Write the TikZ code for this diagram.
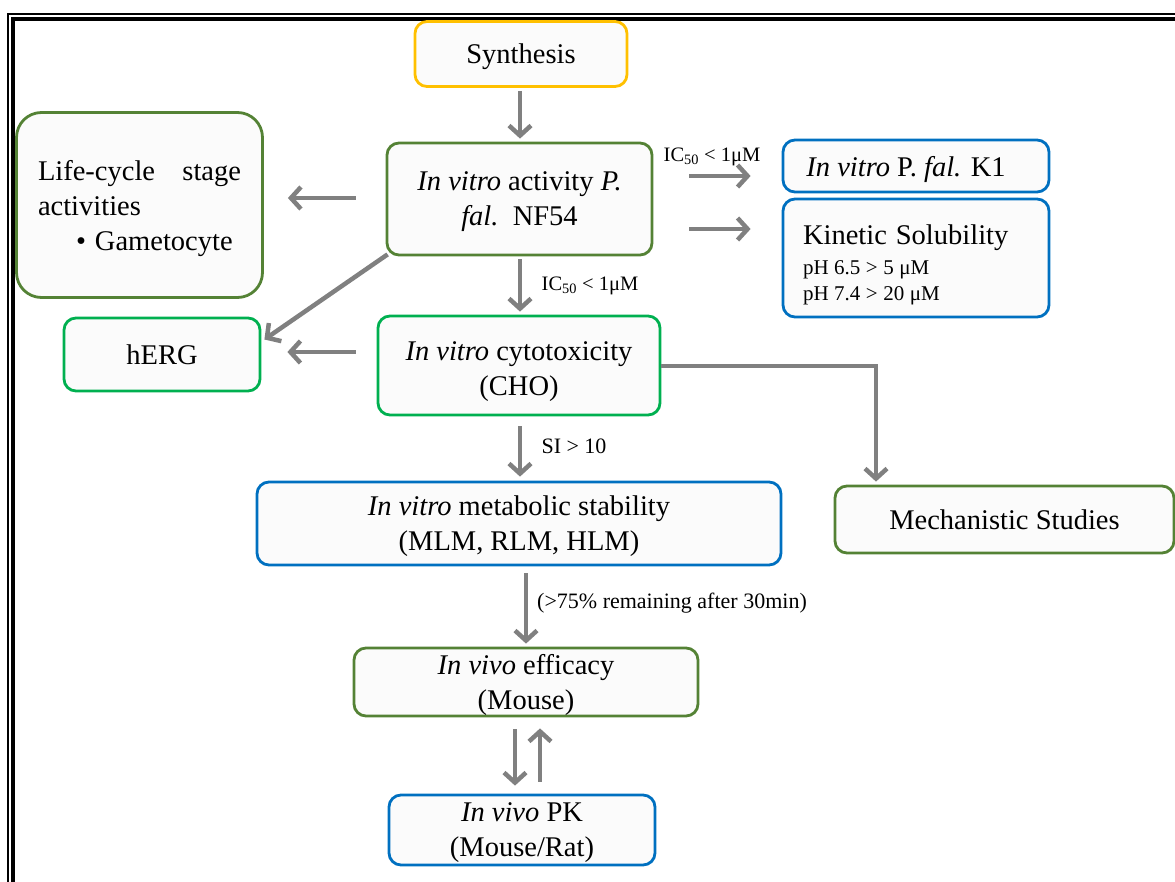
\documentclass[tikz,border=0pt]{standalone}
\usepackage{fontspec}
\setmainfont{Liberation Serif}
\usetikzlibrary{arrows.meta,calc}

\definecolor{synyellow}{HTML}{FFC000}
\definecolor{olivegreen}{HTML}{548235}
\definecolor{brightgreen}{HTML}{00B050}
\definecolor{assayblue}{HTML}{0070C0}
\definecolor{arrowgray}{HTML}{808080}
\definecolor{boxfill}{HTML}{FBFBFB}

\tikzset{
  box/.style={draw, rounded corners=12pt, line width=2.8pt, fill=boxfill,
    inner sep=0pt, align=center, text depth=0pt, font=\fontsize{28.5}{35}\selectfont},
  arr/.style={draw=arrowgray, line width=4.5pt,
    -{Straight Barb[length=10pt,width=22pt]}},
  lbl/.style={inner sep=0pt, font=\fontsize{20.5}{24}\selectfont},
}

\begin{document}
\begin{tikzpicture}[x=1pt,y=-1pt]
\useasboundingbox (0,0) rectangle (1175,882);

% double frame around the chart
\begin{scope}
  \clip (0,0) rectangle (1175,882);
  \draw[line width=2pt] (8,14) rectangle (1200,910);
  \draw[line width=4pt] (13,19) rectangle (1195,905);
\end{scope}

% boxes
\node[box, draw=synyellow, minimum width=212pt, minimum height=65pt] (syn) at (521,54) {Synthesis};
\node[box, draw=olivegreen, minimum width=265pt, minimum height=112pt] (nf) at (519.5,199)
  {\textit{In vitro} activity \textit{P.}\\\textit{fal.}\ \ NF54};
\node[box, draw=olivegreen, rounded corners=25pt, minimum width=246pt, minimum height=185pt,
  text width=203pt, text depth=, align=left] (life) at (139.5,205)
  {\mbox{\hbox to 203pt{\rule{0pt}{27pt}Life-cycle\hfill stage}}\\activities\\\hspace*{38pt}\textbullet\hspace{9pt}Gametocyte};
\node[box, draw=brightgreen, minimum width=196pt, minimum height=73pt] (herg) at (162,354.5) {hERG};
\node[box, draw=brightgreen, minimum width=282pt, minimum height=99pt] (cyto) at (519,365.5)
  {\rule{0pt}{25.5pt}\textit{In vitro} cytotoxicity\\(CHO)};
\node[box, draw=assayblue, minimum width=266pt, minimum height=52pt] (k1) at (916,166)
  {\textit{In vitro} P. \textit{fal.} K1\hspace{20pt}};
\node[box, draw=assayblue, minimum width=266pt, minimum height=118pt, text width=226pt,
  text depth=, align=left] (kin) at (916,258)
  {\mbox{\rule{0pt}{33pt}Kinetic\hspace{9pt}Solubility}\\[-5pt]
   \mbox{\fontsize{21}{26}\selectfont\spaceskip=5.5pt pH 6.5 > 5 μM}\\[-9pt]
   \mbox{\fontsize{21}{26}\selectfont\spaceskip=5.5pt pH 7.4 > 20 μM}};
\node[box, draw=assayblue, minimum width=524pt, minimum height=83pt] (met) at (519,523.5)
  {\textit{In vitro} metabolic stability\\(MLM, RLM, HLM)};
\node[box, draw=olivegreen, minimum width=339pt, minimum height=67pt] (mech) at (1004.5,519.5)
  {Mechanistic Studies};
\node[box, draw=olivegreen, minimum width=344pt, minimum height=68pt] (eff) at (526,682)
  {\textit{In vivo} efficacy\\(Mouse)};
\node[box, draw=assayblue, minimum width=266pt, minimum height=70pt] (pk) at (522,830)
  {\textit{In vivo} PK\\(Mouse/Rat)};

% connectors
\draw[arr] ($(syn.south)+(-1,3)$) -- ($(nf.north)+(0.5,-3)$);
\draw[arr] ($(nf.west)+(-30,-1)$) -- ($(life.east |- nf.west)+(24,-1)$);
\draw[arr] ($(nf.east |- k1.west)+(36,10)$) -- ($(k1.west)+(-31,10)$);
\draw[arr] ($(nf.east |- kin.west)+(36,-29)$) -- ($(kin.west)+(-31,-29)$);
\draw[arr] ($(nf.south)+(0.5,3)$) -- ($(cyto.north)+(1,-3)$);
\draw[arr] ($(nf.south west)+(2,-2)$) -- ($(herg.east)+(3,-15)$);
\draw[arr] ($(cyto.west)+(-21,-13.5)$) -- ($(herg.east)+(26,-2.5)$);
\draw[arr] ($(cyto.east)+(0,0.5)$) -| ($(mech.north)+(-128.5,-3)$);
\draw[arr] ($(cyto.south)+(1,10)$) -- ($(met.north)+(1,-4)$);
\draw[arr] ($(met.south)+(7,7)$) -- ($(eff.north)+(0,-3)$);
\draw[arr] ($(eff.south)+(-11,12)$) -- ($(pk.north)+(-7,-8)$);
\draw[arr] ($(pk.north)+(18,-12)$) -- ($(eff.south)+(14,11)$);

% connector labels
\node[lbl] (l1) at (712,157) {IC\textsubscript{50} < 1μM};
\node[lbl] (l2) at (590,286) {IC\textsubscript{50} < 1μM};
\node[lbl, font=\fontsize{22}{26}\selectfont] (l3) at (574,446) {SI > 10};
\node[lbl, font=\fontsize{22}{26}\selectfont] (l4) at (672,603) {(>75\% remaining after 30min)};
\end{tikzpicture}
\end{document}
